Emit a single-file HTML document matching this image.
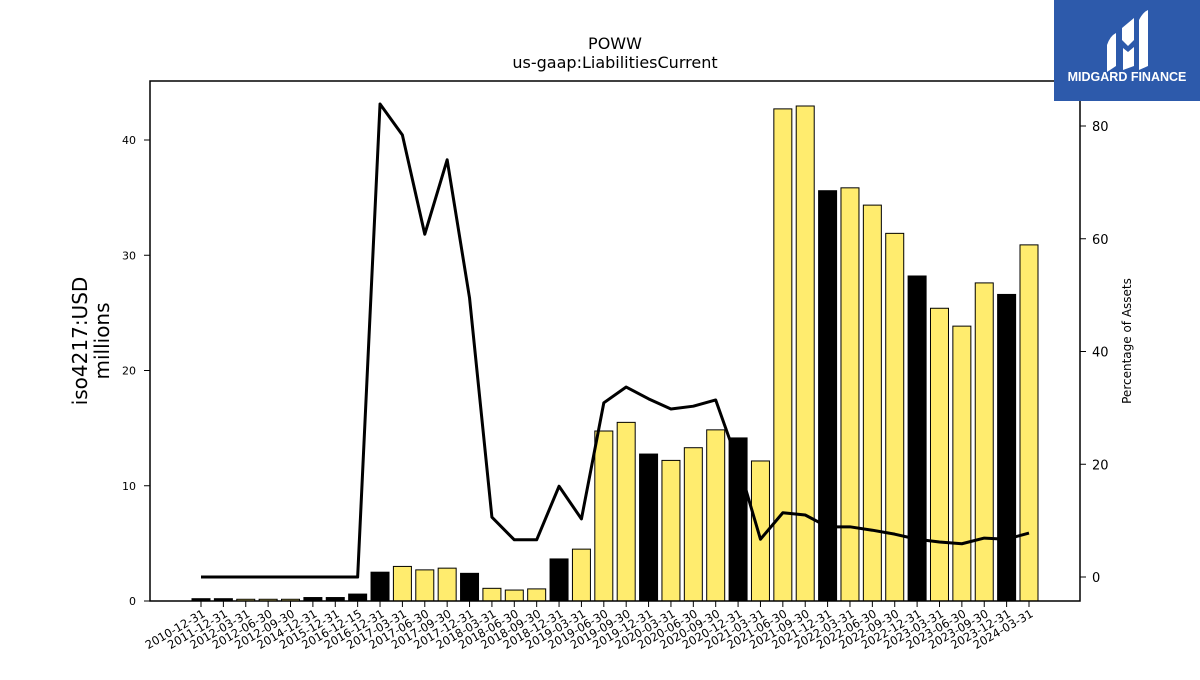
<!DOCTYPE html>
<html><head><meta charset="utf-8"><style>
body{margin:0;background:#fff;font-family:"Liberation Sans","DejaVu Sans",sans-serif}
</style></head><body>
<svg id="chart" width="1200" height="675" xmlns="http://www.w3.org/2000/svg" font-family="DejaVu Sans, Liberation Sans, sans-serif">
<rect width="1200" height="675" fill="#fff"/>
<text x="615" y="49" font-size="16" text-anchor="middle">POWW</text>
<text x="615" y="68" font-size="16" text-anchor="middle">us-gaap:LiabilitiesCurrent</text>
<g id="bars"></g><g id="line"></g>
<rect x="150" y="81" width="930" height="520" fill="none" stroke="#000" stroke-width="1.5"/>
<g id="yl"></g><g id="yr"></g><g id="xl"></g>
<text transform="translate(87,341) rotate(-90)" font-size="20" text-anchor="middle">iso4217:USD</text>
<text transform="translate(109,341) rotate(-90)" font-size="20" text-anchor="middle">millions</text>
<text transform="translate(1131,341) rotate(-90)" font-size="12" text-anchor="middle">Percentage of Assets</text>
<g>
<rect x="1054" y="0" width="146" height="101" fill="#2d5aab"/>
<path d="M1107 45 Q1110 36 1116 33 L1116 66 Q1110 70 1107 72 Z" fill="#fff"/>
<path d="M1122 28 L1134 18 L1134 40 L1128 46 L1122 40 Z" fill="#fff"/>
<path d="M1123 48 L1128 52 L1134 47 L1134 66 L1123 70 Z" fill="#fff"/>
<path d="M1139 20 Q1143 12 1148 10 L1148 66 L1139 70 Z" fill="#fff"/>
<text x="1127" y="81" font-size="12.5" font-weight="bold" fill="#fff" text-anchor="middle" font-family="Liberation Sans, sans-serif">MIDGARD FINANCE</text>
</g>
</svg>
<script>
const categories=["2010-12-31","2011-12-31","2012-03-31","2012-06-30","2012-09-30","2014-12-31","2015-12-31","2016-12-15","2016-12-31","2017-03-31","2017-06-30","2017-09-30","2017-12-31","2018-03-31","2018-06-30","2018-09-30","2018-12-31","2019-03-31","2019-06-30","2019-09-30","2019-12-31","2020-03-31","2020-06-30","2020-09-30","2020-12-31","2021-03-31","2021-06-30","2021-09-30","2021-12-31","2022-03-31","2022-06-30","2022-09-30","2022-12-31","2023-03-31","2023-06-30","2023-09-30","2023-12-31","2024-03-31"];
const liabilities=[0.2,0.2,0.15,0.15,0.15,0.3,0.3,0.6,2.5,3.0,2.7,2.85,2.4,1.1,0.95,1.05,3.65,4.5,14.75,15.5,12.75,12.2,13.3,14.85,14.15,12.15,42.7,42.95,35.6,35.85,34.35,31.9,28.2,25.4,23.85,27.6,26.6,30.9];
const pctAssets=[0,0,0,0,0,0,0,0,83.9,78.4,60.8,74,49.5,10.6,6.6,6.6,16.1,10.3,30.9,33.7,31.6,29.8,30.3,31.4,20.2,6.7,11.4,11,8.9,8.9,8.3,7.6,6.7,6.2,5.9,6.9,6.7,7.8];
const leftTicks=[0,10,20,30,40];
const rightTicks=[0,20,40,60,80];
const NS="http://www.w3.org/2000/svg";
const xPos=i=>201+i*(1029-201)/37;
const yL=v=>601-v*11.525;
const yR=v=>577-v*5.6375;
function mk(t,a,p){const e=document.createElementNS(NS,t);for(const k in a)e.setAttribute(k,a[k]);p.appendChild(e);return e;}
const bars=document.getElementById('bars');
categories.forEach((c,i)=>{
  const black=c.endsWith('12-31')||c==='2016-12-15';
  const r=mk('rect',{x:xPos(i)-9,y:yL(liabilities[i]),width:18,height:601-yL(liabilities[i]),fill:black?'#000':'#ffec6e',stroke:'#000','stroke-width':1},bars);
  
  
});
const pts=pctAssets.map((v,i)=>xPos(i)+','+yR(v)).join(' ');
const pl=mk('polyline',{points:pts,fill:'none',stroke:'#000','stroke-width':3,'stroke-linejoin':'round'},document.getElementById('line'));


const yl=document.getElementById('yl');
leftTicks.forEach(v=>{
  mk('line',{x1:144,x2:150,y1:yL(v),y2:yL(v),stroke:'#000'},yl);
  const t=mk('text',{x:136,y:yL(v)+4,'font-size':11,'text-anchor':'end'},yl);t.textContent=v;
  
  
});
const yr=document.getElementById('yr');
rightTicks.forEach(v=>{
  mk('line',{x1:1080,x2:1086,y1:yR(v),y2:yR(v),stroke:'#000'},yr);
  const t=mk('text',{x:1092,y:yR(v)+5,'font-size':13},yr);t.textContent=v;
  
  
});
const xl=document.getElementById('xl');
categories.forEach((c,i)=>{
  const x=xPos(i);
  mk('line',{x1:x,x2:x,y1:601,y2:607,stroke:'#000'},xl);
  const t=mk('text',{x:x+5,y:616,'font-size':11.5,'text-anchor':'end',transform:`rotate(-30 ${x+5} 616)`},xl);t.textContent=c;
  
  
});
</script>
</body></html>
